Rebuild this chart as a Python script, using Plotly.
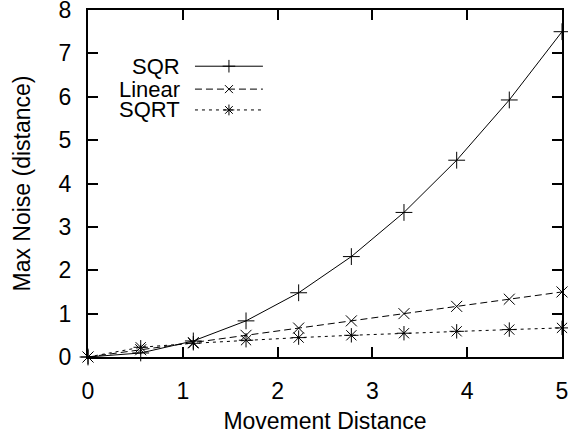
import plotly.graph_objects as go

# Data
movement = [0.0, 0.556, 1.111, 1.667, 2.222, 2.778, 3.333, 3.889, 4.444, 5.0]
sqr = [0.0, 0.093, 0.370, 0.833, 1.481, 2.315, 3.333, 4.537, 5.926, 7.5]
linear = [0.0, 0.167, 0.333, 0.5, 0.667, 0.833, 1.0, 1.167, 1.333, 1.5]
sqrt_ = [0.0, 0.224, 0.316, 0.387, 0.447, 0.5, 0.548, 0.592, 0.632, 0.671]
series_names = ["SQR", "Linear", "SQRT"]
x_ticks = [0, 1, 2, 3, 4, 5]
y_ticks = [0, 1, 2, 3, 4, 5, 6, 7, 8]

FONT = "Liberation Sans, Arial, sans-serif"
FS = 23
FS_KEY = 22

styles = [
    dict(dash="solid", symbol="cross-thin-open", size=12),
    dict(dash="7px,4px", symbol="x-thin-open", size=11),
    dict(dash="3px,4px", symbol="asterisk-open", size=12),
]
ys = [sqr, linear, sqrt_]

fig = go.Figure()
for name, y, st in zip(series_names, ys, styles):
    fig.add_trace(go.Scatter(
        x=movement, y=y, mode="lines+markers", name=name,
        line=dict(color="black", width=1, dash=st["dash"]),
        marker=dict(symbol=st["symbol"], size=st["size"], color="black",
                    line=dict(color="black", width=1)),
        cliponaxis=False, showlegend=False,
    ))

# Custom gnuplot-style key (text then sample) on an overlay axis in [0,1]
key_y = [0.838, 0.772, 0.712]
key_x0, key_x1 = 0.2257, 0.369
for name, ky, st in zip(series_names, key_y, styles):
    fig.add_trace(go.Scatter(
        x=[key_x0, key_x1], y=[ky, ky], mode="lines", xaxis="x2", yaxis="y2",
        line=dict(color="black", width=1, dash=st["dash"]), showlegend=False,
        hoverinfo="skip",
    ))
    fig.add_trace(go.Scatter(
        x=[(key_x0 + key_x1) / 2], y=[ky], mode="markers", xaxis="x2", yaxis="y2",
        marker=dict(symbol=st["symbol"], size=st["size"] - 3, color="black",
                    line=dict(color="black", width=1)),
        showlegend=False, hoverinfo="skip",
    ))
    fig.add_annotation(x=0.199, y=ky, xref="paper", yref="paper", text=name,
                       showarrow=False, xanchor="right", yanchor="middle",
                       font=dict(family=FONT, size=FS_KEY, color="black"))

axis_common = dict(
    showgrid=False, zeroline=False, showline=True, linecolor="black", linewidth=2,
    mirror="allticks", ticks="inside", ticklen=10, tickwidth=2, tickcolor="black",
    tickfont=dict(family=FONT, size=FS, color="black"), automargin=False,
    ticklabeloverflow="allow",
)

fig.update_layout(
    width=568, height=437,
    margin=dict(l=88, r=6, t=10, b=80),
    paper_bgcolor="white", plot_bgcolor="white",
    font=dict(family=FONT, size=FS, color="black"),
    xaxis=dict(range=[0, 5], tickvals=x_ticks, ticklabelstandoff=12,
               title=dict(text="Movement Distance", standoff=10,
                          font=dict(family=FONT, size=FS)),
               **axis_common),
    yaxis=dict(range=[0, 8], tickvals=y_ticks, ticklabelstandoff=10,
               title=dict(text="Max Noise (distance)", standoff=22,
                          font=dict(family=FONT, size=FS)),
               **axis_common),
    xaxis2=dict(range=[0, 1], overlaying="x", visible=False, fixedrange=True),
    yaxis2=dict(range=[0, 1], overlaying="y", visible=False, fixedrange=True),
)

fig.write_html("out.html")
